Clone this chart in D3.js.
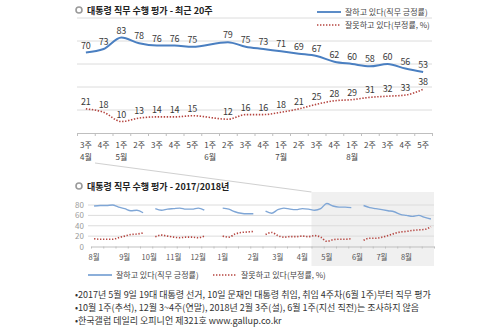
<!DOCTYPE html>
<html>
<head>
<meta charset="utf-8">
<script src="https://cdn.jsdelivr.net/npm/d3@7"></script>
<style>
  body { margin: 0; background: #fff; }
  svg { font-family: "Noto Sans CJK KR", "Noto Sans", sans-serif; }
</style>
</head>
<body>
<div id="chart"></div>
<script>
// 최근 20주 (2018년 4월 3주 ~ 8월 5주), 6월 1주는 조사 없음
const recentWeeks = ['3주','4주','1주','2주','3주','4주','5주','1주','2주','3주','4주','1주','2주','3주','4주','1주','2주','3주','4주','5주']
const recentMonths = ['4월',null,'5월',null,null,null,null,'6월',null,null,null,'7월',null,null,null,'8월',null,null,null,null]
const recentPositive = [70,73,83,78,76,76,75,null,79,75,73,71,69,67,62,60,58,60,56,53]
const recentNegative = [21,18,10,13,14,14,15,null,12,16,16,18,21,25,28,29,31,32,33,38]

// 2017/2018년 주별 (2017년 8월 1주 ~ 2018년 8월 5주)
const yearPositive = [
  78,79,79,80,76,73,69,70,65, null,
  73,70,72,73,74,72,72,74,70, null,null,
  74,72,67,64,63,63, null,
  68,64,71,74,72,71,73,72,
  70,73,83,78,76,76,75, null,
  79,75,73,71,69,67,62,60,58,60,56,53
]
const yearNegative = [
  15,14,14,14,17,20,23,24,26, null,
  19,22,20,18,17,18,18,17,20, null,null,
  20,18,24,27,28,29, null,
  23,27,21,18,19,19,20,19,
  21,18,10,13,14,14,15, null,
  12,16,16,18,21,25,28,29,31,32,33,38
]
const yearMonths = ['8월','9월','10월','11월','12월','1월','2월','3월','4월','5월','6월','7월','8월']
const yearMonthWeek = [0,5,9,13,17,21,26,30,34,38,43,47,51]
const recentStartWeek = 36

const legendLabels = ['잘하고 있다(직무 긍정률)', '잘못하고 있다(부정률, %)']
const notes = [
  '•2017년 5월 9일 19대 대통령 선거, 10일 문재인 대통령 취임, 취임 4주차(6월 1주)부터 직무 평가',
  '•10월 1주(추석), 12월 3~4주(연말), 2018년 2월 3주(설), 6월 1주(지선 직전)는 조사하지 않음',
  '•한국갤럽 데일리 오피니언 제321호 www.gallup.co.kr'
]

const width = 500, height = 333
const blue = '#4a7fc1', red = '#b5443f'
const lightBlue = '#7fa6d6'
const gridColor = '#dcdcdc', axisColor = '#bfbfbf'

const svg = d3.select('#chart').append('svg')
  .attr('width', width).attr('height', height)

const sectionTitle = (y, text) => {
  svg.append('circle').attr('cx', 79).attr('cy', y - 4).attr('r', 3)
    .attr('fill', '#fff').attr('stroke', '#9a9a9a').attr('stroke-width', 1.6)
  svg.append('text').attr('x', 87).attr('y', y)
    .attr('font-size', 9).attr('font-weight', 'bold').attr('fill', '#222')
    .text(text)
}

const legendItem = (x, y, color, dashed, label, lineW) => {
  svg.append('line').attr('x1', x).attr('x2', x + lineW).attr('y1', y).attr('y2', y)
    .attr('stroke', color).attr('stroke-width', dashed ? 1.5 : 1.8)
    .attr('stroke-dasharray', dashed ? '1.4,1.6' : null)
  svg.append('text').attr('x', x + lineW + 4).attr('y', y + 3)
    .attr('font-size', 8).attr('fill', '#444').text(label)
}

// ---- 최근 20주 ----
sectionTitle(14, '대통령 직무 수행 평가 - 최근 20주')
legendItem(317, 12, blue, false, legendLabels[0], 24)
legendItem(317, 25, red, true, legendLabels[1], 24)

const xTop = d3.scaleBand().domain(d3.range(recentWeeks.length)).range([77, 432])
const yTop = d3.scaleLinear().domain([0, 100]).range([133, 18])
const cx = i => xTop(i) + xTop.bandwidth() / 2

const topG = svg.append('g')
topG.selectAll('.grid').data([20, 40, 60, 80, 100]).enter().append('line')
  .attr('x1', 77).attr('x2', 432)
  .attr('y1', d => yTop(d)).attr('y2', d => yTop(d))
  .attr('stroke', gridColor)

const xTopEdge = d3.scaleLinear().domain([0, recentWeeks.length]).range(xTop.range())
topG.append('g').attr('transform', `translate(0,${yTop(0)})`)
  .call(d3.axisBottom(xTopEdge).tickValues(d3.range(recentWeeks.length + 1))
    .tickFormat('').tickSizeInner(3).tickSizeOuter(0))
  .call(g => g.selectAll('line, path').attr('stroke', axisColor))

topG.selectAll('.wk').data(recentWeeks).enter().append('text')
  .attr('x', (d, i) => cx(i)).attr('y', 148)
  .attr('text-anchor', 'middle').attr('font-size', 8).attr('fill', '#444')
  .text(d => d)
topG.selectAll('.mo').data(recentMonths.map((m, i) => ({ m, i })).filter(d => d.m))
  .enter().append('text')
  .attr('x', d => cx(d.i)).attr('y', 160)
  .attr('text-anchor', 'middle').attr('font-size', 8).attr('fill', '#444')
  .text(d => d.m)

const topSeries = [
  { values: recentPositive, color: blue, dashed: false },
  { values: recentNegative, color: red, dashed: true }
]
topSeries.forEach(s => {
  const pts = s.values.map((v, i) => ({ i, v })).filter(d => d.v !== null)
  topG.append('path').datum(pts)
    .attr('fill', 'none').attr('stroke', s.color)
    .attr('stroke-width', s.dashed ? 1.6 : 2)
    .attr('stroke-dasharray', s.dashed ? '1.4,1.6' : null)
    .attr('d', d3.line().x(d => cx(d.i)).y(d => yTop(d.v)).curve(d3.curveMonotoneX))
  topG.selectAll(null).data(pts).enter().append('text')
    .attr('x', d => cx(d.i)).attr('y', d => yTop(d.v) - 4)
    .attr('text-anchor', 'middle').attr('font-size', 9).attr('fill', '#3a3a3a')
    .text(d => d.v)
})

// ---- 2017/2018년 ----
const xYear = d3.scaleBand().domain(d3.range(yearPositive.length)).range([91, 434])
const yYear = d3.scaleLinear().domain([0, 80]).range([246.5, 205])
const yx = i => xYear(i) + xYear.bandwidth() / 2

// 최근 20주 구간 연결선과 음영
svg.append('line').attr('x1', 95).attr('y1', 163)
  .attr('x2', xYear(recentStartWeek)).attr('y2', 192)
  .attr('stroke', '#d0d0d0')
svg.append('rect').attr('x', xYear(recentStartWeek)).attr('y', 192)
  .attr('width', 434 - xYear(recentStartWeek)).attr('height', 74)
  .attr('fill', '#f0f0f0')

sectionTitle(190, '대통령 직무 수행 평가 - 2017/2018년')

const bottomG = svg.append('g')
bottomG.selectAll('.grid').data([20, 40, 60, 80]).enter().append('line')
  .attr('x1', 88).attr('x2', 434)
  .attr('y1', d => yYear(d)).attr('y2', d => yYear(d))
  .attr('stroke', gridColor)
bottomG.selectAll('.ylab').data([0, 20, 40, 60, 80]).enter().append('text')
  .attr('x', 84).attr('y', d => yYear(d) + 3)
  .attr('text-anchor', 'end').attr('font-size', 8).attr('fill', '#9a9a9a')
  .text(d => d)

const xYearEdge = d3.scaleLinear().domain([0, yearPositive.length]).range(xYear.range())
bottomG.append('g').attr('transform', `translate(0,${yYear(0)})`)
  .call(d3.axisBottom(xYearEdge).tickValues(d3.range(0, yearPositive.length + 1, 2))
    .tickFormat('').tickSizeInner(2).tickSizeOuter(0))
  .call(g => g.selectAll('line, path').attr('stroke', axisColor))

bottomG.selectAll('.mo').data(yearMonths).enter().append('text')
  .attr('x', (d, k) => yx(yearMonthWeek[k])).attr('y', 260)
  .attr('text-anchor', 'middle').attr('font-size', 7.5).attr('fill', '#555')
  .text(d => d)

const yearSeries = [
  { values: yearPositive, color: lightBlue, dashed: false },
  { values: yearNegative, color: red, dashed: true }
]
yearSeries.forEach(s => {
  bottomG.append('path').datum(s.values)
    .attr('fill', 'none').attr('stroke', s.color)
    .attr('stroke-width', s.dashed ? 1.6 : 1.4)
    .attr('stroke-dasharray', s.dashed ? '1.3,1.7' : null)
    .attr('d', d3.line().defined(v => v !== null)
      .x((v, i) => yx(i)).y(v => yYear(v)).curve(d3.curveMonotoneX))
})

legendItem(88, 275, lightBlue, false, legendLabels[0], 24)
legendItem(213, 275, red, true, legendLabels[1], 24)

svg.selectAll('.note').data(notes).enter().append('text')
  .attr('x', 75).attr('y', (d, i) => 298 + i * 13)
  .attr('font-size', 9).attr('fill', '#333')
  .text(d => d)
</script>
</body>
</html>
